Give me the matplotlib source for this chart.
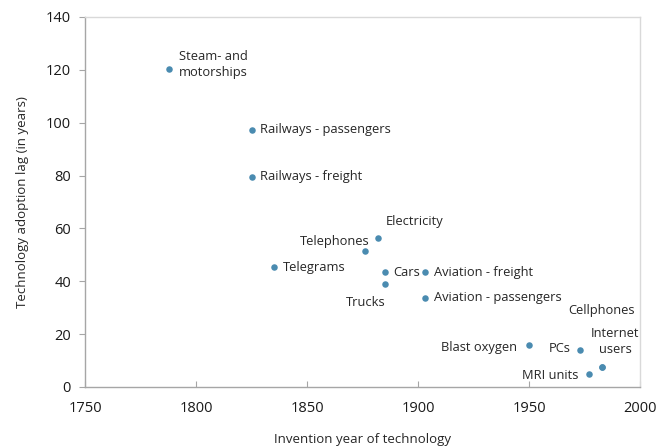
import matplotlib
matplotlib.use("Agg")
import matplotlib.pyplot as plt

plt.rcParams['font.family'] = ['Open Sans', 'DejaVu Sans']

technologies = ["Steam- and\nmotorships", "Railways - passengers", "Railways - freight",
                "Telegrams", "Telephones", "Electricity", "Cars", "Trucks",
                "Aviation - freight", "Aviation - passengers", "Blast oxygen",
                "PCs", "MRI units", "Internet\nusers", "Cellphones"]
invention_year = [1788, 1825, 1825, 1835, 1876, 1882, 1885, 1885, 1903, 1903, 1950, 1973, 1977, 1983, 1983]
adoption_lag = [120.5, 97.3, 79.5, 45.4, 51.3, 56.4, 43.5, 38.9, 43.5, 33.7, 15.9, 14.0, 5.0, 7.4, 7.4]

# label offsets in pixels and alignment
offsets = [(10, 4, 'left'), (8, 0, 'left'), (8, 0, 'left'), (9, 0, 'left'),
           (5, 10, 'right'), (8, 16, 'left'), (9, 0, 'left'), (1, -18, 'right'),
           (9, 0, 'left'), (9, 0, 'left'), (-12, -3, 'right'), (-9, 2, 'right'),
           (-11, -2, 'right'), (13, 26, 'center'), (-1, 57, 'center')]

fig = plt.figure(figsize=(6.62, 4.47), dpi=100)
ax = fig.add_axes([85/662, 1-387/447, (640-85)/662, (387-17)/447])

ax.scatter(invention_year, adoption_lag, s=22, color='#4a8bb0', zorder=3, linewidths=0)

for name, x, y, (dx, dy, ha) in zip(technologies, invention_year, adoption_lag, offsets):
    ax.annotate(name, (x, y), xytext=(dx, dy), textcoords='offset pixels',
                ha=ha, va='center', fontsize=9.3, color='#262626', linespacing=1.35,
                multialignment=ha if ha != 'right' else 'left')

ax.set_xlim(1750, 2000)
ax.set_ylim(0, 140)
ax.set_xticks([1750, 1800, 1850, 1900, 1950, 2000])
ax.set_yticks([0, 20, 40, 60, 80, 100, 120, 140])

for s in ['left', 'bottom']:
    ax.spines[s].set_color('#a6a6a6')
    ax.spines[s].set_linewidth(1.0)
for s in ['top', 'right']:
    ax.spines[s].set_color('#d9d9d9')
    ax.spines[s].set_linewidth(1.0)

ax.tick_params(axis='x', direction='in', length=4, color='#a6a6a6', labelsize=10.5,
               labelcolor='#1a1a1a', pad=10)
ax.tick_params(axis='y', direction='out', length=4, color='#a6a6a6', labelsize=10.5,
               labelcolor='#1a1a1a', pad=6)

ax.set_xlabel("Invention year of technology", fontsize=9.5, color='#262626', labelpad=12)
ax.set_ylabel("Technology adoption lag (in years)", fontsize=9.5, color='#262626', labelpad=12)

fig.savefig("out.png", dpi=100)
